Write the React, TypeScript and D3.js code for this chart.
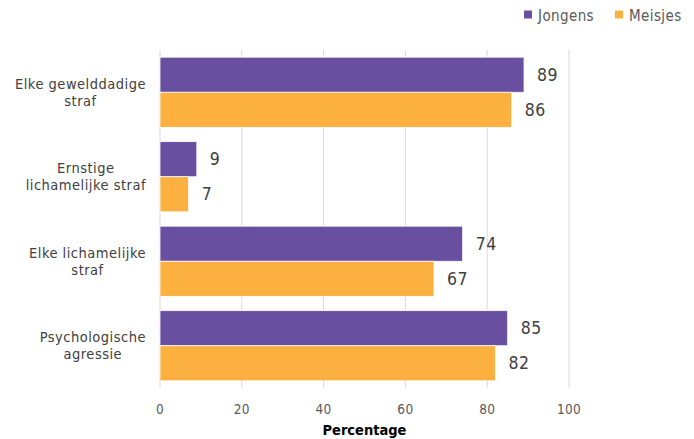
import React, { useEffect, useRef } from "react";
import * as d3 from "d3";

const categories: string[][] = [
  ["Elke gewelddadige", "straf"],
  ["Ernstige", "lichamelijke straf"],
  ["Elke lichamelijke", "straf"],
  ["Psychologische", "agressie"],
];
const seriesNames = ["Jongens", "Meisjes"];
const jongens = [89, 9, 74, 85];
const meisjes = [86, 7, 67, 82];
const xTicks = [0, 20, 40, 60, 80, 100];
const colors = ["#684FA0", "#FBB040"];

const W = 694;
const H = 439;
const FONT = "'DejaVu Sans Condensed', 'Liberation Sans Narrow', sans-serif";

export default function App() {
  const ref = useRef<SVGSVGElement>(null);

  useEffect(() => {
    const svg = d3.select(ref.current);
    svg.selectAll("*").remove();

    const x = d3.scaleLinear().domain([0, 100]).range([160, 569]);
    const y = d3
      .scaleBand<number>()
      .domain(d3.range(categories.length))
      .range([50, 388])
      .paddingInner(0.17)
      .paddingOuter(0.085);
    const y1 = d3.scaleBand<number>().domain([0, 1]).range([0, y.bandwidth()]);

    // gridlines
    svg
      .append("g")
      .selectAll("line")
      .data(xTicks)
      .join("line")
      .attr("x1", (d) => x(d))
      .attr("x2", (d) => x(d))
      .attr("y1", 50)
      .attr("y2", 388)
      .attr("stroke", "#d9d9d9")
      .attr("stroke-width", 1);

    // tick labels
    svg
      .append("g")
      .selectAll("text")
      .data(xTicks)
      .join("text")
      .attr("x", (d) => x(d))
      .attr("y", 409)
      .attr("text-anchor", "middle")
      .attr("dominant-baseline", "central")
      .attr("font-family", FONT)
      .attr("font-size", 13.5)
      .attr("letter-spacing", 0.3)
      .attr("fill", "#595959")
      .text((d) => String(d));

    svg
      .append("text")
      .attr("x", x(50))
      .attr("y", 430)
      .attr("text-anchor", "middle")
      .attr("dominant-baseline", "central")
      .attr("font-family", FONT)
      .attr("font-size", 14.5)
      .attr("font-weight", "bold")
      .attr("fill", "#000")
      .text("Percentage");

    const series = [jongens, meisjes];
    series.forEach((vals, si) => {
      const g = svg.append("g");
      g.selectAll("rect")
        .data(vals)
        .join("rect")
        .attr("x", x(0))
        .attr("y", (_, i) => (y(i) as number) + (y1(si) as number))
        .attr("width", (d) => x(d) - x(0))
        .attr("height", y1.bandwidth())
        .attr("fill", colors[si])
        .attr("stroke", "#ffffff")
        .attr("stroke-width", 0.75);
      g.selectAll("text")
        .data(vals)
        .join("text")
        .attr("x", (d) => x(d) + 13)
        .attr("y", (_, i) => (y(i) as number) + (y1(si) as number) + y1.bandwidth() / 2)
        .attr("dominant-baseline", "central")
        .attr("font-family", FONT)
        .attr("font-size", 17.5)
        .attr("letter-spacing", 0.5)
        .attr("fill", "#404040")
        .text((d) => String(d));
    });

    // category labels
    categories.forEach((lines, i) => {
      const cy = (y(i) as number) + y.bandwidth() / 2;
      const g = svg.append("g");
      const texts = g
        .selectAll("text")
        .data(lines)
        .join("text")
        .attr("y", (_, li) => cy + (li - (lines.length - 1) / 2) * 17)
        .attr("dominant-baseline", "central")
        .attr("font-family", FONT)
        .attr("font-size", 14.5)
        .attr("letter-spacing", 0.5)
        .attr("fill", "#404040")
        .text((d) => d);
      let maxW = 0;
      texts.each(function () {
        maxW = Math.max(maxW, (this as SVGTextElement).getComputedTextLength());
      });
      texts.attr("x", 146 - maxW / 2).attr("text-anchor", "middle");
    });

    // legend
    const legendX = [524, 615];
    seriesNames.forEach((name, si) => {
      svg
        .append("rect")
        .attr("x", legendX[si])
        .attr("y", 10.5)
        .attr("width", 8)
        .attr("height", 8)
        .attr("fill", colors[si]);
      svg
        .append("text")
        .attr("x", legendX[si] + 14)
        .attr("y", 15.5)
        .attr("dominant-baseline", "central")
        .attr("font-family", FONT)
        .attr("font-size", 15)
        .attr("letter-spacing", 0.4)
        .attr("fill", "#595959")
        .text(name);
    });
  }, []);

  return (
    <svg
      ref={ref}
      width={W}
      height={H}
      style={{ position: "absolute", left: 0, top: 0, background: "#fff" }}
    />
  );
}
